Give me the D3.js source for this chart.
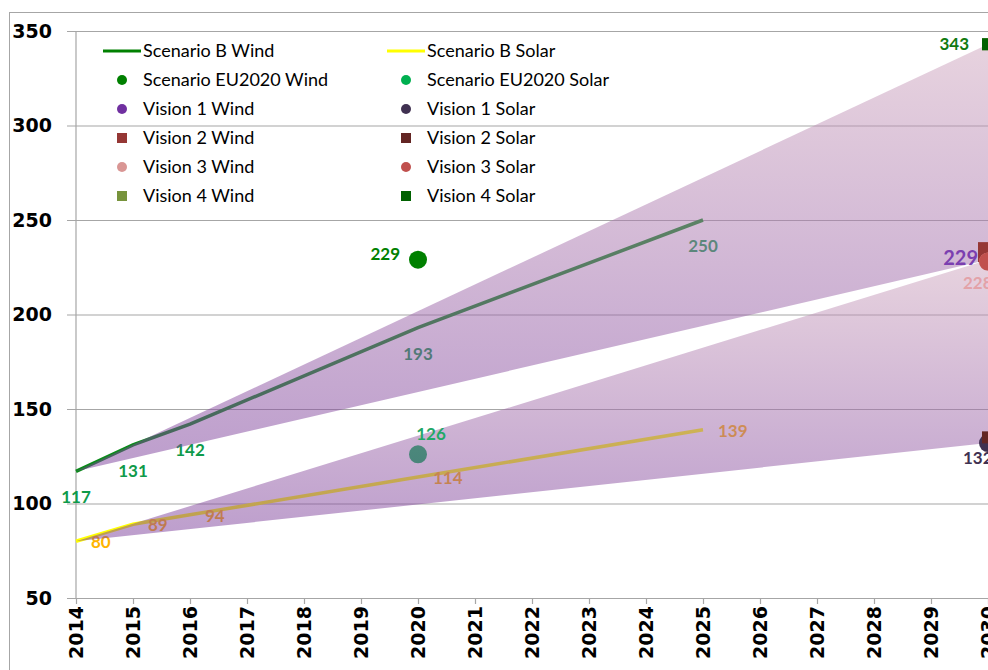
<!DOCTYPE html>
<html>
<head>
<meta charset="utf-8">
<script src="https://cdn.jsdelivr.net/npm/d3@7"></script>
<style>
  body { margin: 0; background: #fff; }
  svg { display: block; }
</style>
</head>
<body>
<div class="chart"></div>
<script>
// ---- data ----
var yearTicks = [2014, 2015, 2016, 2017, 2018, 2019, 2020, 2021, 2022, 2023, 2024, 2025, 2026, 2027, 2028, 2029, 2030];
var valueTicks = [50, 100, 150, 200, 250, 300, 350];

var scenarioYears = [2014, 2015, 2016, 2020, 2025];
var scenarioBWind = [117, 131, 142, 193, 250];
var scenarioBSolar = [80, 89, 94, 114, 139];

var eu2020Year = 2020;
var eu2020Wind = 229;
var eu2020Solar = 126;

var visionYear = 2030;
var visionNames = ["Vision 1", "Vision 2", "Vision 3", "Vision 4"];
var visionWind = [229, 233, 228, 343];
var visionSolar = [132, 135, 228, 343];

var fanYears = [2014, 2030];
var windFanLow = [117, 229];
var windFanHigh = [117, 343];
var solarFanLow = [80, 132];
var solarFanHigh = [80, 229];

var legendLeft = ["Scenario B Wind", "Scenario EU2020 Wind", "Vision 1 Wind", "Vision 2 Wind", "Vision 3 Wind", "Vision 4 Wind"];
var legendRight = ["Scenario B Solar", "Scenario EU2020 Solar", "Vision 1 Solar", "Vision 2 Solar", "Vision 3 Solar", "Vision 4 Solar"];

// ---- styles ----
var W = 988, H = 670;
var colors = {
  "Scenario B Wind": "#008000", "Scenario B Solar": "#ffff00",
  "Scenario EU2020 Wind": "#008000", "Scenario EU2020 Solar": "#00b050",
  "Vision 1 Wind": "#7030a0", "Vision 1 Solar": "#403151",
  "Vision 2 Wind": "#953735", "Vision 2 Solar": "#632523",
  "Vision 3 Wind": "#d99694", "Vision 3 Solar": "#c0504d",
  "Vision 4 Wind": "#77933c", "Vision 4 Solar": "#006100"
};
var shapes = {
  "Vision 1": "circle", "Vision 2": "square", "Vision 3": "circle", "Vision 4": "square"
};
var windMarkerSize = { "Vision 1": 18, "Vision 2": 20, "Vision 3": 18, "Vision 4": 12 };
var solarMarkerSize = { "Vision 1": 18, "Vision 2": 12, "Vision 3": 18, "Vision 4": 12 };

var xScale = d3.scaleLinear().domain([2014, 2030]).range([76, 988]);
var yScale = d3.scaleLinear().domain([50, 350]).range([598, 31]);

var svg = d3.select(".chart").append("svg")
  .attr("width", W)
  .attr("height", H);

var defs = svg.append("defs");
var grad = defs.append("linearGradient")
  .attr("id", "fanGrad")
  .attr("x1", 0).attr("y1", 0).attr("x2", 0).attr("y2", 1);
grad.append("stop").attr("offset", "0%").attr("stop-color", "#cfa6be");
grad.append("stop").attr("offset", "100%").attr("stop-color", "#7a3c9a");

// outer chart border
svg.append("rect")
  .attr("x", 9.5).attr("y", 12.5)
  .attr("width", 1100).attr("height", 800)
  .attr("fill", "none")
  .attr("stroke", "#a6a6a6");

// horizontal gridlines + y labels
var yAxis = svg.append("g")
  .attr("class", "axis axis--y")
  .attr("transform", "translate(67,0)")
  .call(d3.axisLeft(yScale).tickValues(valueTicks).tickSize(-(W - 67)).tickPadding(15));
yAxis.select(".domain").remove();
yAxis.selectAll(".tick line").attr("stroke", "#a6a6a6").attr("stroke-width", 1.2);
yAxis.selectAll(".tick text")
  .attr("fill", "#000")
  .style("font", "bold 19px 'DejaVu Sans'");

// y axis line
svg.append("line")
  .attr("x1", xScale(2014)).attr("x2", xScale(2014))
  .attr("y1", yScale(350)).attr("y2", yScale(50))
  .attr("stroke", "#a6a6a6").attr("stroke-width", 1.2);

// x axis
var xAxis = svg.append("g")
  .attr("class", "axis axis--x")
  .attr("transform", "translate(0," + yScale(50) + ")")
  .call(d3.axisBottom(xScale).tickValues(yearTicks).tickSize(6).tickFormat(d3.format("d")));
xAxis.select(".domain").remove();
xAxis.selectAll(".tick line").attr("stroke", "#a6a6a6").attr("stroke-width", 1.2);
xAxis.selectAll(".tick text")
  .attr("fill", "#000")
  .attr("transform", "rotate(-90)")
  .attr("text-anchor", "end")
  .attr("x", -8).attr("y", 0).attr("dy", "0.36em")
  .style("font", "bold 19px 'DejaVu Sans'");

// scenario B lines
var line = d3.line()
  .x(function (d) { return xScale(d.year); })
  .y(function (d) { return yScale(d.value); });

function toPoints(vals) {
  return scenarioYears.map(function (yr, i) { return { year: yr, value: vals[i] }; });
}

svg.append("path")
  .attr("d", line(toPoints(scenarioBWind)))
  .attr("fill", "none")
  .attr("stroke", "#0a8a1a")
  .attr("stroke-width", 3.5);

svg.append("path")
  .attr("d", line(toPoints(scenarioBSolar)))
  .attr("fill", "none")
  .attr("stroke", colors["Scenario B Solar"])
  .attr("stroke-width", 3.5);

// scenario B labels
svg.selectAll(".windLbl")
  .data(toPoints(scenarioBWind))
  .enter().append("text")
  .attr("class", "windLbl")
  .attr("x", function (d) { return xScale(d.year); })
  .attr("y", function (d) { return yScale(d.value) + 26; })
  .attr("dy", "0.35em")
  .attr("text-anchor", "middle")
  .attr("fill", "#0f9a4a")
  .style("font", "bold 17px Lato")
  .text(function (d) { return d.value; });

svg.selectAll(".solarLbl")
  .data(toPoints(scenarioBSolar))
  .enter().append("text")
  .attr("class", "solarLbl")
  .attr("x", function (d) { return xScale(d.year) + 15; })
  .attr("y", function (d) { return yScale(d.value) + 1; })
  .attr("dy", "0.35em")
  .attr("fill", "#ffb400")
  .style("font", "bold 17px Lato")
  .text(function (d) { return d.value; });

// scenario EU2020 markers
svg.append("circle")
  .attr("cx", xScale(eu2020Year)).attr("cy", yScale(eu2020Wind)).attr("r", 9)
  .attr("fill", colors["Scenario EU2020 Wind"]);
svg.append("circle")
  .attr("cx", xScale(eu2020Year)).attr("cy", yScale(eu2020Solar)).attr("r", 9)
  .attr("fill", colors["Scenario EU2020 Solar"]);

svg.append("text")
  .attr("x", xScale(eu2020Year) - 18).attr("y", yScale(eu2020Wind) - 6)
  .attr("dy", "0.35em").attr("text-anchor", "end")
  .attr("fill", "#008000")
  .style("font", "bold 17px Lato")
  .text(eu2020Wind);

// translucent fans
var area = d3.area()
  .x(function (d) { return xScale(d.year); })
  .y0(function (d) { return yScale(d.low); })
  .y1(function (d) { return yScale(d.high); });

function fanPoints(low, high) {
  return fanYears.map(function (yr, i) { return { year: yr, low: low[i], high: high[i] }; });
}

[fanPoints(windFanLow, windFanHigh), fanPoints(solarFanLow, solarFanHigh)].forEach(function (pts) {
  svg.append("path")
    .attr("d", area(pts))
    .attr("fill", "url(#fanGrad)")
    .attr("fill-opacity", 0.5);
});

svg.append("text")
  .attr("x", xScale(eu2020Year) + 13).attr("y", yScale(eu2020Solar) - 20)
  .attr("dy", "0.35em").attr("text-anchor", "middle")
  .attr("fill", "#22a866")
  .style("font", "bold 17px Lato")
  .text(eu2020Solar);

// vision markers at 2030
function drawMarker(g, shape, cx, cy, size, color) {
  if (shape === "circle") {
    g.append("circle").attr("cx", cx).attr("cy", cy).attr("r", size / 2).attr("fill", color);
  } else {
    g.append("rect").attr("x", cx - size / 2).attr("y", cy - size / 2)
      .attr("width", size).attr("height", size).attr("fill", color);
  }
}

var visionG = svg.append("g");
visionNames.forEach(function (v, i) {
  drawMarker(visionG, shapes[v], xScale(visionYear), yScale(visionWind[i]), windMarkerSize[v], colors[v + " Wind"]);
});
visionNames.forEach(function (v, i) {
  drawMarker(visionG, shapes[v], xScale(visionYear), yScale(visionSolar[i]), solarMarkerSize[v], colors[v + " Solar"]);
});

// vision labels
svg.append("text")
  .attr("x", xScale(visionYear) - 19).attr("y", yScale(visionSolar[3]))
  .attr("dy", "0.35em").attr("text-anchor", "end")
  .attr("fill", "#107a10")
  .style("font", "bold 17px Lato")
  .text(visionSolar[3]);
svg.append("text")
  .attr("x", xScale(visionYear) - 10).attr("y", yScale(visionWind[0]) - 2)
  .attr("dy", "0.35em").attr("text-anchor", "end")
  .attr("fill", "#7b3fb0")
  .style("font", "bold 20px Lato")
  .text(visionWind[0]);
svg.append("text")
  .attr("x", xScale(visionYear) - 25).attr("y", yScale(visionWind[2]) + 21)
  .attr("dy", "0.35em")
  .attr("fill", "#e3a2a8")
  .style("font", "bold 17px Lato")
  .text(visionWind[2]);
svg.append("text")
  .attr("x", xScale(visionYear) - 25).attr("y", yScale(visionSolar[0]) + 15)
  .attr("dy", "0.35em")
  .attr("fill", "#403151")
  .style("font", "bold 17px Lato")
  .text(visionSolar[0]);

// legend
function legendColumn(names, lx) {
  var g = svg.append("g").attr("transform", "translate(" + lx + ",51)");
  names.forEach(function (name, i) {
    var row = g.append("g").attr("transform", "translate(0," + (i * 29) + ")");
    if (i === 0) {
      row.append("line").attr("x1", 0).attr("x2", 38).attr("y1", 0).attr("y2", 0)
        .attr("stroke", colors[name]).attr("stroke-width", 3);
    } else {
      var shape = i === 1 ? "circle" : shapes[name.split(" ").slice(0, 2).join(" ")];
      drawMarker(row, shape, 19, 0, 10, colors[name]);
    }
    row.append("text")
      .attr("x", 40).attr("y", 0).attr("dy", "0.35em")
      .attr("fill", "#000")
      .style("font", "18px Lato")
      .text(name);
  });
}
legendColumn(legendLeft, 103);
legendColumn(legendRight, 387);
</script>
</body>
</html>
